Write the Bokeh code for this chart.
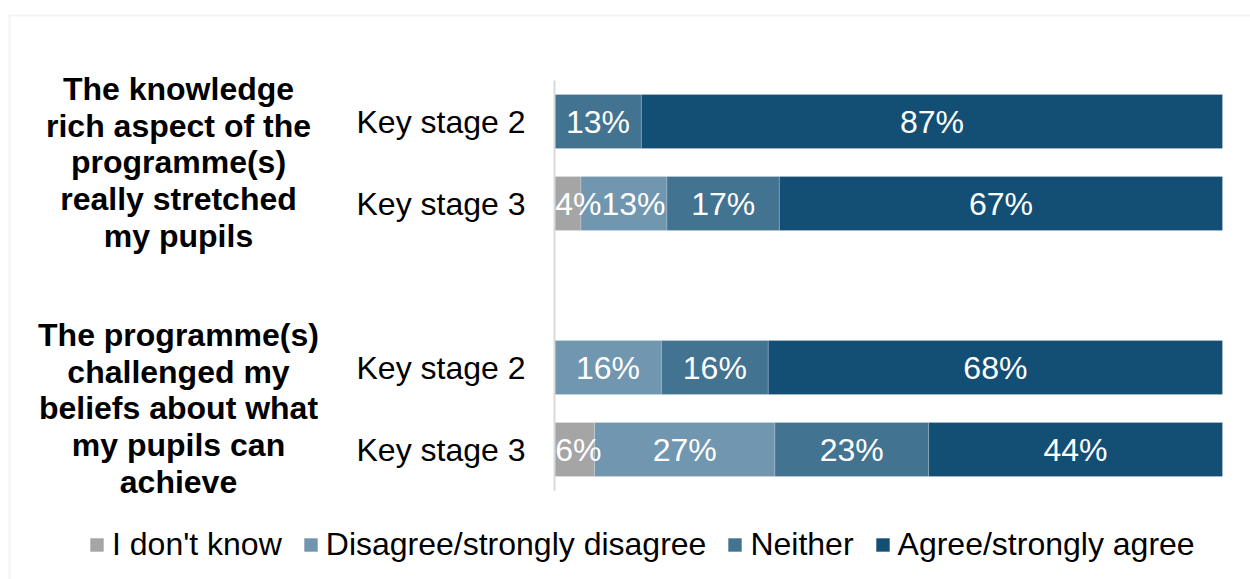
from bokeh.plotting import figure
from bokeh.models import ColumnDataSource, Range1d, Legend, LegendItem, BoxAnnotation
from bokeh.core.properties import value
from bokeh.embed import file_html
from bokeh.resources import INLINE

# ---- data ----
questions = [
    "The knowledge\nrich aspect of the\nprogramme(s)\nreally stretched\nmy pupils",
    "The programme(s)\nchallenged my\nbeliefs about what\nmy pupils can\nachieve",
]
stages = ["Key stage 2", "Key stage 3", "Key stage 2", "Key stage 3"]
series_names = ["I don't know", "Disagree/strongly disagree", "Neither", "Agree/strongly agree"]
dont_know = [0, 4, 0, 6]
disagree = [0, 13, 16, 27]
neither = [13, 17, 16, 23]
agree = [87, 67, 68, 44]
colors = ["#a5a5a5", "#7096b0", "#427391", "#134f75"]

rows = [0, 1, 3, 4]          # vertical slots (gap between the two questions)
group_centers = [0.5, 3.5]

FONT = "Liberation Sans"
FS_PX = 32
FS = f"{FS_PX}px"
W, H = 1250, 579
PX_PER_UNIT_X = 6.68   # 100% -> 668 px
PX_PER_UNIT_Y = 82.0
X0_PX, Y0_PX = 554, 121

def X(px):
    return (px - X0_PX) / PX_PER_UNIT_X

def Y(py):
    return (py - Y0_PX) / PX_PER_UNIT_Y

def label_width(t):
    # approximate rendered width (in data units) of a percentage label
    w_px = FS_PX * sum(0.889 if c == "%" else 0.556 for c in t)
    return w_px / PX_PER_UNIT_X

p = figure(width=W, height=H, output_backend="svg", toolbar_location=None,
           x_range=Range1d(X(0), X(W)), y_range=Range1d(Y(H), Y(0)),
           min_border=0, outline_line_color=None)
p.xaxis.visible = False
p.yaxis.visible = False
p.grid.visible = False

# chart border
p.add_layout(BoxAnnotation(left=X(9), right=X(W + 40), top=Y(15), bottom=Y(H + 40),
                           fill_alpha=0, line_color="#d9d9d9", line_width=2))

series = [dont_know, disagree, neither, agree]
totals = [sum(s[i] for s in series) for i in range(len(rows))]
left = [0.0] * len(rows)
renderers = []
lab_x, lab_y, lab_t = [], [], []
prev_end = [0.1] * len(rows)
for name, vals, col in zip(series_names, series, colors):
    share = [v / t * 100 for v, t in zip(vals, totals)]
    right = [l + s for l, s in zip(left, share)]
    src = ColumnDataSource(dict(y=rows, left=left, right=right))
    r = p.hbar(y="y", left="left", right="right", height=0.66, source=src,
               fill_color=col, line_color="white", line_width=0.5, line_alpha=0.4)
    renderers.append((name, r))
    for i, (l, rr, v, y) in enumerate(zip(left, right, vals, rows)):
        if v > 0:
            t = f"{v}%"
            hw = label_width(t) / 2
            cx = max((l + rr) / 2, prev_end[i] + hw)
            prev_end[i] = cx + hw
            lab_x.append(cx)
            lab_y.append(y)
            lab_t.append(t)
    left = right

p.text(x=lab_x, y=lab_y, text=lab_t, text_color="white", text_font=value(FONT),
       text_font_size=FS, text_align="center", text_baseline="middle")

# vertical axis line
p.segment(x0=[0], y0=[-0.5], x1=[0], y1=[4.5], line_color="#d9d9d9", line_width=2)

# category labels
p.text(x=[X(525)] * len(rows), y=rows, text=stages, text_font=value(FONT),
       text_font_size=FS, text_align="right", text_baseline="middle",
       text_color="#000000")
p.text(x=[X(178)] * 2, y=group_centers, text=questions, text_font=value(FONT),
       text_font_size=FS, text_font_style="bold", text_align="center",
       text_baseline="middle", text_line_height=1.02, text_color="#000000")

legend = Legend(items=[LegendItem(label=n, renderers=[r]) for n, r in renderers],
                orientation="horizontal", location=(88, 16),
                label_text_font=FONT, label_text_font_size=FS,
                label_text_color="#000000",
                glyph_width=17, glyph_height=17, label_standoff=7, spacing=20,
                padding=0, margin=0, border_line_color=None,
                background_fill_alpha=0)
p.add_layout(legend, "center")

open("out.html", "w").write(file_html(p, INLINE))
